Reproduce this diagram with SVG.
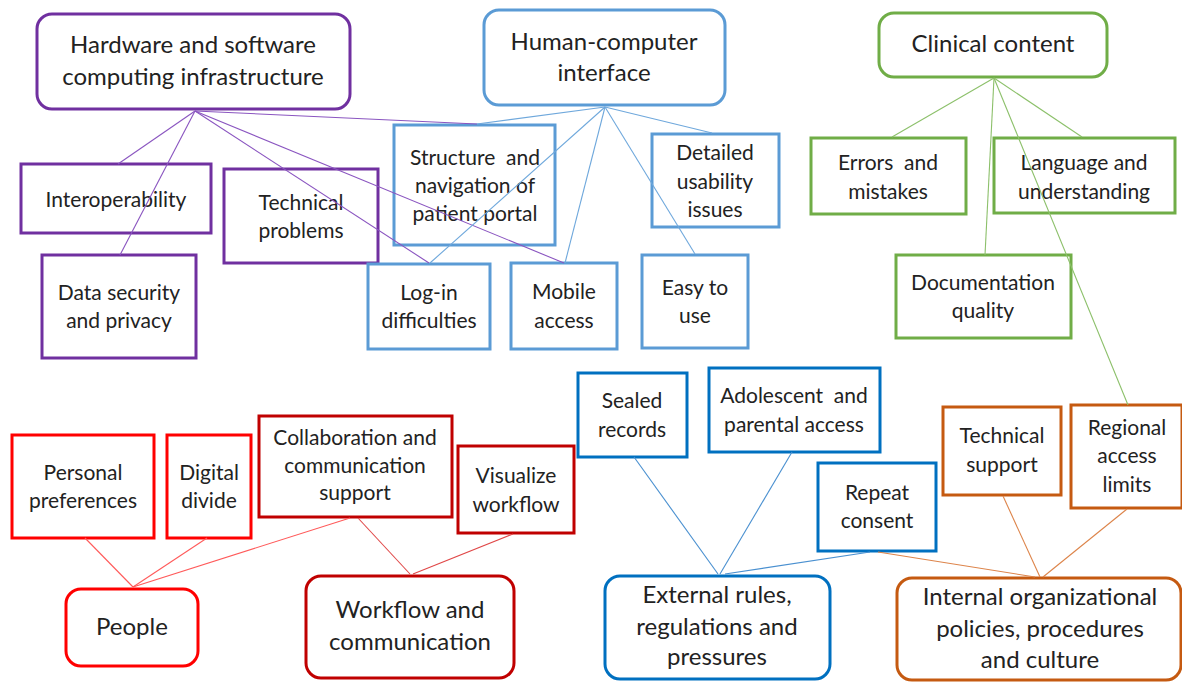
<svg xmlns="http://www.w3.org/2000/svg" width="1182" height="682" viewBox="0 0 1182 682">
  <style>
    text { font-family: Lato, "Liberation Sans", sans-serif; fill: #222; text-anchor: middle; white-space: pre; }
    .t { font-size: 24px; }
    .s { font-size: 21px; }
    rect { fill: #fff; stroke-width: 3; }
    .main { rx: 15; ry: 15; }
    .purple { stroke: #7030A0; }
    .lblue { stroke: #5B9BD5; }
    .green { stroke: #70AD47; }
    .red { stroke: #FF0000; }
    .dred { stroke: #C00000; }
    .blue { stroke: #0070C0; }
    .orange { stroke: #C55A11; }
    #connectors line { stroke-width: 1.1; fill: none; }
    .c-purple { stroke: #8A55C0; }
    .c-lblue { stroke: #6FA8DC; }
    .c-green { stroke: #8CC06A; }
    .c-red { stroke: #FF5A5A; }
    .c-dred { stroke: #E04848; }
    .c-blue { stroke: #4A90D0; }
    .c-orange { stroke: #DD844A; }
  </style>

  <rect width="1182" height="682" style="fill:#fff;stroke:none"/>

  <!-- Hardware and software computing infrastructure -->
  <g id="hardware">
    <rect class="main purple" x="37" y="14" width="313" height="95"/>
    <text class="t" x="193" y="53">Hardware and software</text>
    <text class="t" x="193" y="85">computing infrastructure</text>
  </g>
  <g id="interoperability">
    <rect class="purple" x="21" y="164" width="190" height="69"/>
    <text class="s" x="116" y="207">Interoperability</text>
  </g>
  <g id="data-security">
    <rect class="purple" x="42" y="255" width="154" height="103"/>
    <text class="s" x="119" y="300">Data security</text>
    <text class="s" x="119" y="328">and privacy</text>
  </g>
  <g id="technical-problems">
    <rect class="purple" x="224" y="169" width="154" height="94"/>
    <text class="s" x="301" y="210">Technical</text>
    <text class="s" x="301" y="238">problems</text>
  </g>

  <!-- Human-computer interface -->
  <g id="hci">
    <rect class="main lblue" x="484" y="10" width="241" height="95"/>
    <text class="t" x="604" y="50">Human-computer</text>
    <text class="t" x="604" y="81">interface</text>
  </g>
  <g id="structure-navigation">
    <rect class="lblue" x="394" y="125" width="161" height="120"/>
    <text class="s" x="475" y="165" xml:space="preserve">Structure  and</text>
    <text class="s" x="475" y="193">navigation of</text>
    <text class="s" x="475" y="221">patient portal</text>
  </g>
  <g id="detailed-usability">
    <rect class="lblue" x="652" y="134" width="127" height="93"/>
    <text class="s" x="715" y="160">Detailed</text>
    <text class="s" x="715" y="189">usability</text>
    <text class="s" x="715" y="217">issues</text>
  </g>
  <g id="log-in">
    <rect class="lblue" x="368" y="264" width="122" height="85"/>
    <text class="s" x="429" y="300">Log-in</text>
    <text class="s" x="429" y="328">difficulties</text>
  </g>
  <g id="mobile-access">
    <rect class="lblue" x="511" y="263" width="106" height="86"/>
    <text class="s" x="564" y="299">Mobile</text>
    <text class="s" x="564" y="328">access</text>
  </g>
  <g id="easy-to-use">
    <rect class="lblue" x="642" y="255" width="106" height="93"/>
    <text class="s" x="695" y="295">Easy to</text>
    <text class="s" x="695" y="323">use</text>
  </g>

  <!-- Clinical content -->
  <g id="clinical-content">
    <rect class="main green" x="879" y="13" width="228" height="64"/>
    <text class="t" x="993" y="52">Clinical content</text>
  </g>
  <g id="errors-mistakes">
    <rect class="green" x="811" y="138" width="155" height="76"/>
    <text class="s" x="888" y="170" xml:space="preserve">Errors  and</text>
    <text class="s" x="888" y="199">mistakes</text>
  </g>
  <g id="language-understanding">
    <rect class="green" x="994" y="138" width="181" height="75"/>
    <text class="s" x="1084" y="170">Language and</text>
    <text class="s" x="1084" y="199">understanding</text>
  </g>
  <g id="documentation-quality">
    <rect class="green" x="896" y="255" width="175" height="83"/>
    <text class="s" x="983" y="290">Documentation</text>
    <text class="s" x="983" y="318">quality</text>
  </g>

  <!-- People -->
  <g id="people">
    <rect class="main red" x="66" y="589" width="132" height="77"/>
    <text class="t" x="132" y="635">People</text>
  </g>
  <g id="personal-preferences">
    <rect class="red" x="12" y="435" width="142" height="103"/>
    <text class="s" x="83" y="480">Personal</text>
    <text class="s" x="83" y="508">preferences</text>
  </g>
  <g id="digital-divide">
    <rect class="red" x="167" y="435" width="84" height="103"/>
    <text class="s" x="209" y="480">Digital</text>
    <text class="s" x="209" y="508">divide</text>
  </g>

  <!-- Workflow and communication -->
  <g id="workflow-communication">
    <rect class="main dred" x="306" y="576" width="208" height="102"/>
    <text class="t" x="410" y="618">Workflow and</text>
    <text class="t" x="410" y="650">communication</text>
  </g>
  <g id="collaboration-support">
    <rect class="dred" x="259" y="416" width="193" height="101"/>
    <text class="s" x="355" y="445">Collaboration and</text>
    <text class="s" x="355" y="473">communication</text>
    <text class="s" x="355" y="500">support</text>
  </g>
  <g id="visualize-workflow">
    <rect class="dred" x="458" y="446" width="116" height="87"/>
    <text class="s" x="516" y="483">Visualize</text>
    <text class="s" x="516" y="512">workflow</text>
  </g>

  <!-- External rules, regulations and pressures -->
  <g id="external-rules">
    <rect class="main blue" x="605" y="576" width="225" height="103"/>
    <text class="t" x="717" y="603">External rules,</text>
    <text class="t" x="717" y="635">regulations and</text>
    <text class="t" x="717" y="665">pressures</text>
  </g>
  <g id="sealed-records">
    <rect class="blue" x="578" y="373" width="109" height="84"/>
    <text class="s" x="632" y="408">Sealed</text>
    <text class="s" x="632" y="437">records</text>
  </g>
  <g id="adolescent-access">
    <rect class="blue" x="709" y="368" width="171" height="84"/>
    <text class="s" x="794" y="403" xml:space="preserve">Adolescent  and</text>
    <text class="s" x="794" y="432">parental access</text>
  </g>
  <g id="repeat-consent">
    <rect class="blue" x="818" y="463" width="118" height="88"/>
    <text class="s" x="877" y="500">Repeat</text>
    <text class="s" x="877" y="528">consent</text>
  </g>

  <!-- Internal organizational policies, procedures and culture -->
  <g id="internal-policies">
    <rect class="main orange" x="897" y="578" width="284" height="102"/>
    <text class="t" x="1040" y="605">Internal organizational</text>
    <text class="t" x="1040" y="637">policies, procedures</text>
    <text class="t" x="1040" y="668">and culture</text>
  </g>
  <g id="technical-support">
    <rect class="orange" x="943" y="407" width="118" height="88"/>
    <text class="s" x="1002" y="443">Technical</text>
    <text class="s" x="1002" y="472">support</text>
  </g>
  <g id="regional-access">
    <rect class="orange" x="1071" y="405" width="111" height="103"/>
    <text class="s" x="1127" y="435">Regional</text>
    <text class="s" x="1127" y="463">access</text>
    <text class="s" x="1127" y="492">limits</text>
  </g>

  <!-- thin links, drawn last so they run across the boxes -->
  <g id="connectors">
    <!-- hardware / software hub -->
    <line class="c-purple" x1="195" y1="111" x2="118" y2="164"/>
    <line class="c-purple" x1="195" y1="111" x2="120" y2="255"/>
    <line class="c-purple" x1="195" y1="111" x2="477" y2="124"/>
    <line class="c-purple" x1="195" y1="111" x2="429" y2="263"/>
    <line class="c-purple" x1="195" y1="111" x2="564" y2="263"/>
    <!-- human-computer interface hub -->
    <line class="c-lblue" x1="605" y1="107" x2="477" y2="124"/>
    <line class="c-lblue" x1="605" y1="107" x2="430" y2="263"/>
    <line class="c-lblue" x1="605" y1="107" x2="565" y2="263"/>
    <line class="c-lblue" x1="605" y1="107" x2="695" y2="254"/>
    <line class="c-lblue" x1="605" y1="107" x2="712" y2="133"/>
    <!-- clinical content hub -->
    <line class="c-green" x1="994" y1="78" x2="892" y2="137"/>
    <line class="c-green" x1="994" y1="78" x2="985" y2="255"/>
    <line class="c-green" x1="994" y1="78" x2="1082" y2="137"/>
    <line class="c-green" x1="994" y1="78" x2="1128" y2="405"/>
    <!-- people -->
    <line class="c-red" x1="85" y1="538" x2="133" y2="587"/>
    <line class="c-red" x1="207" y1="538" x2="133" y2="587"/>
    <line class="c-red" x1="350" y1="518" x2="133" y2="587"/>
    <!-- workflow and communication -->
    <line class="c-dred" x1="358" y1="518" x2="410" y2="574"/>
    <line class="c-dred" x1="513" y1="534" x2="413" y2="574"/>
    <!-- external rules -->
    <line class="c-blue" x1="634" y1="457" x2="718" y2="574"/>
    <line class="c-blue" x1="792" y1="452" x2="720" y2="574"/>
    <line class="c-blue" x1="870" y1="552" x2="725" y2="574"/>
    <!-- internal policies -->
    <line class="c-orange" x1="878" y1="552" x2="1035" y2="577"/>
    <line class="c-orange" x1="1003" y1="496" x2="1040" y2="577"/>
    <line class="c-orange" x1="1127" y1="509" x2="1043" y2="577"/>
  </g>
</svg>
